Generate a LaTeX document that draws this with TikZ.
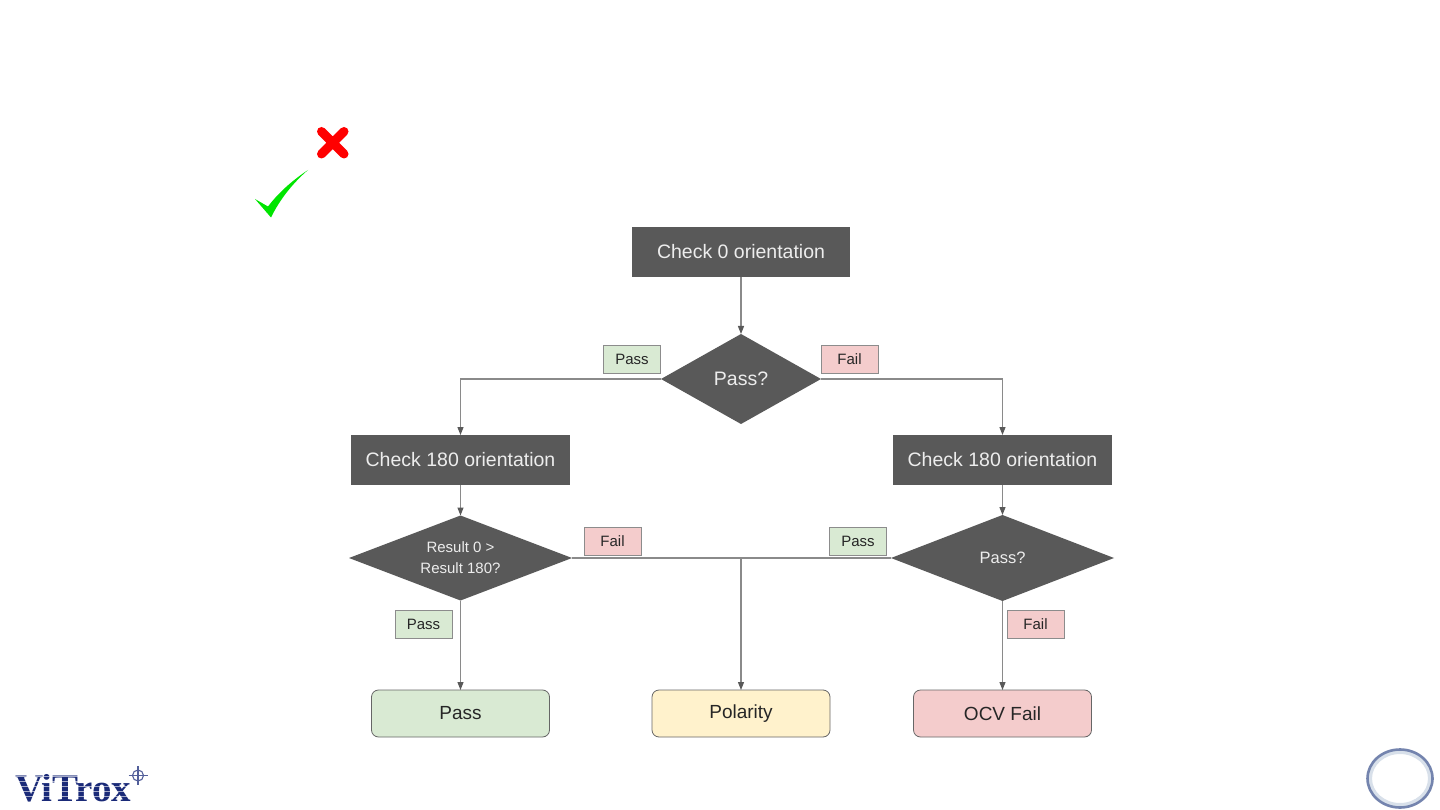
\documentclass[tikz,border=0pt]{standalone}
\usepackage{fontspec}
\setmainfont{Liberation Sans}
\newfontfamily\logofont{Liberation Serif}
\usetikzlibrary{shapes.geometric,arrows.meta}
\definecolor{darkbox}{HTML}{595959}
\definecolor{linegray}{HTML}{8A8A8A}
\definecolor{tipgray}{HTML}{595959}
\definecolor{greenfill}{HTML}{D9EAD3}
\definecolor{redfill}{HTML}{F4CCCC}
\definecolor{yellowfill}{HTML}{FFF2CC}
\definecolor{navy}{HTML}{1A2A78}
\definecolor{ringout}{HTML}{7484AE}
\definecolor{ringin}{HTML}{D8E0EA}
\tikzset{
  every node/.style={inner sep=0pt,outer sep=0pt,text=black!85},
  procbox/.style={fill=darkbox,minimum width=219pt,minimum height=50pt,text=white!93!black,font=\fontsize{19.5}{23}\selectfont},
  decide/.style={diamond,fill=darkbox,text=white!93!black,align=center},
  tagbox/.style={draw=black!45,line width=0.8pt,minimum width=57pt,minimum height=28pt,font=\fontsize{15}{17}\selectfont},
  endbox/.style={draw=black!60,line width=0.8pt,rounded corners=7pt,minimum width=178pt,minimum height=47pt,font=\fontsize{19}{22}\selectfont},
  link/.style={draw=linegray,line width=1.2pt},
  arrowlink/.style={link,-{Triangle[length=8pt,width=6pt,color=tipgray]}},
}
\begin{document}
\begin{tikzpicture}[x=1pt,y=-1pt]
\useasboundingbox (0,0) rectangle (1440,810);
\fill[white] (0,0) rectangle (1440,810);
% process boxes
\node[procbox,minimum width=218pt] (top) at (741,252) {Check 0 orientation};
\node[procbox] (cl) at (460.5,460) {Check 180 orientation};
\node[procbox] (cr) at (1002.5,460) {Check 180 orientation};
% decisions
\node[decide,aspect=1.78,minimum width=160pt,minimum height=90pt,font=\fontsize{19.5}{23}\selectfont] (d1) at (741,379) {Pass?};
\node[decide,aspect=2.62,minimum width=223pt,minimum height=85pt,font=\fontsize{15}{21}\selectfont] (dl) at (460.5,558) {Result 0 >\\Result 180?};
\node[decide,aspect=2.59,minimum width=223pt,minimum height=86pt,font=\fontsize{16.5}{21}\selectfont] (dr) at (1002.5,558) {Pass?};
% ends
\node[endbox,fill=greenfill] (pass) at (460.5,713.5) {Pass};
\node[endbox,fill=yellowfill] (pol) at (741,713.5) {Polarity};
\node[endbox,fill=redfill] (ocv) at (1002.5,713.5) {OCV Fail};
% connectors
\draw[arrowlink] (top) -- (d1);
\draw[arrowlink] (d1.west) -| (cl.north);
\draw[arrowlink] (d1.east) -| (cr.north);
\draw[arrowlink] (cl) -- (dl);
\draw[arrowlink] (cr) -- (dr);
\draw[arrowlink] (dl.south) -- (pass.north);
\draw[arrowlink] (dr.south) -- (ocv.north);
\draw[link] (dl.east) -- (dr.west);
\coordinate (mid) at (dl.east -| pol.north);
\draw[arrowlink] (mid) -- (pol.north);
% tags
\node[tagbox,fill=greenfill] (t1) at (632,359.5) {Pass};
\node[tagbox,fill=redfill] (t2) at (849.5,359.5) {Fail};
\node[tagbox,fill=redfill] (t3) at (612.5,541) {Fail};
\node[tagbox,fill=greenfill] (t4) at (858,541) {Pass};
\node[tagbox,fill=greenfill] (t5) at (423.5,624) {Pass};
\node[tagbox,fill=redfill] (t6) at (1035.5,624) {Fail};
% cross and tick
\draw[red,line width=9pt,line cap=round] (321.5,131.5) -- (344,154) (344,131.5) -- (321.5,154);
\fill[green!90!black] (255,199) -- (268,206.5) .. controls (279,192) and (293,180) .. (308,170)
  .. controls (293,183) and (280,199) .. (271,217.5) -- cycle;
% logo
\node[anchor=base west,font=\logofont\bfseries\fontsize{39}{39}\selectfont,text=navy] (logo) at (15,801.5) {ViTrox};
\foreach \yy in {776,781,786,791,796}{\fill[white,opacity=.6] (12,\yy) rectangle (133,\yy+1.2);}
\draw[navy!75,line width=1.1pt] (138,775.5) circle (5.5pt);
\draw[navy!75,line width=1.1pt] (138,766) -- (138,785) (128.5,775.5) -- (147.5,775.5);
% ring
\draw[ringin,line width=4pt] (1400,778.5) ellipse (30pt and 26.5pt);
\draw[ringout,line width=2.6pt] (1400,778.5) ellipse (32.5pt and 29pt);
\end{tikzpicture}
\end{document}
